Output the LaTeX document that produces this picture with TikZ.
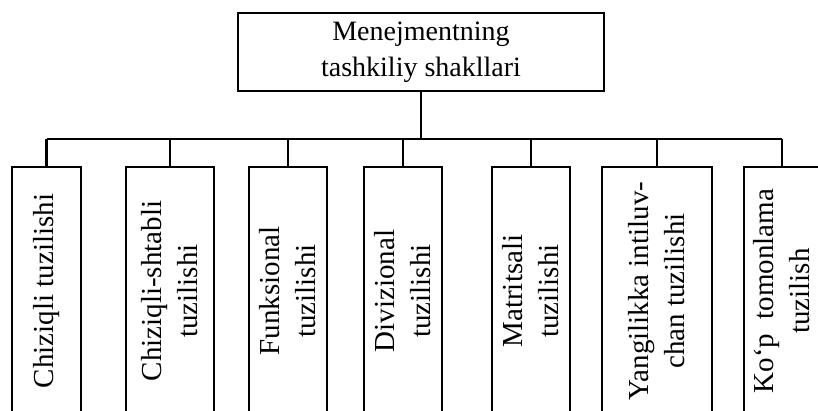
\documentclass[tikz,border=0pt]{standalone}
\usepackage{fontspec}
\setmainfont{Liberation Serif}
\begin{document}
\begin{tikzpicture}[x=1pt,y=-1pt,
  boxst/.style={draw, line width=2.6pt, inner sep=0pt, align=center},
  vbox/.style={boxst, rotate=90, minimum width=248pt, font=\fontsize{29}{36}\selectfont},
  conn/.style={line width=2.2pt}]
\useasboundingbox (0,0) rectangle (818,411);
\clip (0,0) rectangle (818,411);
\node[boxst, minimum width=366pt, minimum height=78pt, font=\fontsize{28}{36}\selectfont] (top) at (421,52) {Menejmentning\\tashkiliy shakllari};
\coordinate (bus) at (421,139);
\node[vbox, minimum height=69pt] (b1) at (46.5,291) {Chiziqli tuzilishi};
\node[vbox, minimum height=88pt] (b2) at (170,291) {Chiziqli-shtabli\\tuzilishi};
\node[vbox, minimum height=78pt] (b3) at (288,291) {Funksional\\tuzilishi};
\node[vbox, minimum height=78pt] (b4) at (403,291) {Divizional\\tuzilishi};
\node[vbox, minimum height=78pt] (b5) at (531,291) {Matritsali\\tuzilishi};
\node[vbox, minimum height=110pt] (b6) at (657,291) {Yangilikka intiluv-\\chan tuzilishi};
\node[vbox, minimum height=76pt] (b7) at (782,291) {Ko‘p\ \ tomonlama\\tuzilish};
\draw[conn] (top.south) -- (bus);
\draw[conn] (b1.east |- bus) -- (b7.east |- bus);
\foreach \b in {b1,b2,b3,b4,b5,b6,b7}{
  \draw[conn] (\b.east) -- (\b.east |- bus);
}
\end{tikzpicture}
\end{document}
